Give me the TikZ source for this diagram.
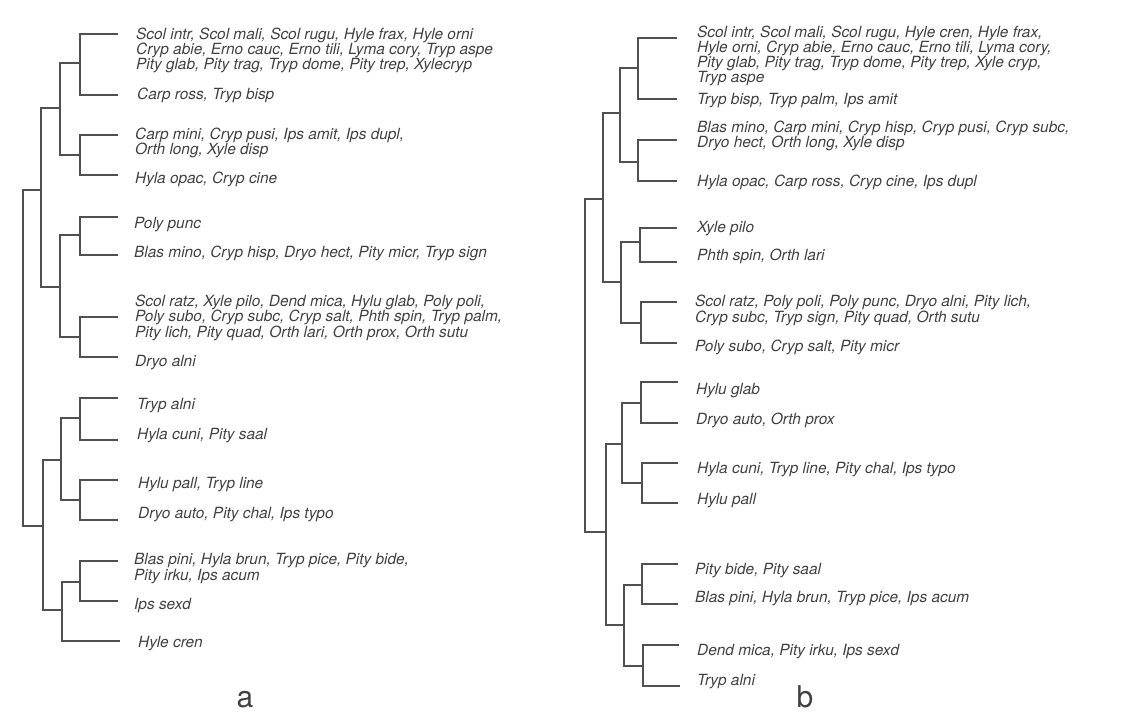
\documentclass[tikz,border=0pt]{standalone}
\usepackage{fontspec}
\setmainfont{TeX Gyre Heros}
\usetikzlibrary{positioning}
\definecolor{linecolor}{RGB}{80,80,80}
\definecolor{textcolor}{RGB}{65,65,65}

\begin{document}
\begin{tikzpicture}[x=1pt, y=-1pt,
    branch/.style={linecolor, line width=1.3pt},
    taxon/.style={textcolor, anchor=base west, align=left, inner sep=0pt,
      font=\fontsize{15.4}{15.2}\selectfont\itshape},
    panel/.style={textcolor, anchor=base, inner sep=0pt, font=\fontsize{30}{30}\selectfont}]
  \useasboundingbox (0,0) rectangle (1129,714);

  % ---------------- tree a ----------------
  \coordinate (a0) at (23,358);
  \coordinate (aA) at (41,190);
  \coordinate (aB) at (60,108);
  \coordinate (aC) at (60,287);
  \coordinate (aB1) at (80,63);
  \coordinate (aB2) at (80,155);
  \coordinate (aC1) at (80,235);
  \coordinate (aC2) at (80,337);
  \coordinate (aD) at (43,526);
  \coordinate (aE) at (61,460);
  \coordinate (aF) at (62,610);
  \coordinate (aE1) at (80,418);
  \coordinate (aE2) at (80,500);
  \coordinate (aF1) at (80,582);
  % leaves
  \coordinate (aL1) at (118,34);
  \coordinate (aL2) at (118,95);
  \coordinate (aL3) at (118,135);
  \coordinate (aL4) at (118,175);
  \coordinate (aL5) at (118,217);
  \coordinate (aL6) at (118,255);
  \coordinate (aL7) at (118,317);
  \coordinate (aL8) at (118,357);
  \coordinate (aL9) at (118,398);
  \coordinate (aL10) at (118,440);
  \coordinate (aL11) at (118,480);
  \coordinate (aL12) at (118,520);
  \coordinate (aL13) at (118,561);
  \coordinate (aL14) at (118,601);
  \coordinate (aL15) at (120,641);

  \draw[branch] (a0) |- (aA) (a0) |- (aD);
  \draw[branch] (aA) |- (aB) (aA) |- (aC);
  \draw[branch] (aB) |- (aB1) (aB) |- (aB2);
  \draw[branch] (aC) |- (aC1) (aC) |- (aC2);
  \draw[branch] (aB1) |- (aL1) (aB1) |- (aL2);
  \draw[branch] (aB2) |- (aL3) (aB2) |- (aL4);
  \draw[branch] (aC1) |- (aL5) (aC1) |- (aL6);
  \draw[branch] (aC2) |- (aL7) (aC2) |- (aL8);
  \draw[branch] (aD) |- (aE) (aD) |- (aF);
  \draw[branch] (aE) |- (aE1) (aE) |- (aE2);
  \draw[branch] (aE1) |- (aL9) (aE1) |- (aL10);
  \draw[branch] (aE2) |- (aL11) (aE2) |- (aL12);
  \draw[branch] (aF) |- (aF1) (aF) |- (aL15);
  \draw[branch] (aF1) |- (aL13) (aF1) |- (aL14);

  % labels a (base = last line)
  \node[taxon] (aT1) at (136,70) {Scol intr, Scol mali, Scol rugu, Hyle frax, Hyle orni\\
    Cryp abie, Erno cauc, Erno tili, Lyma cory, Tryp aspe\\
    Pity glab, Pity trag, Tryp dome, Pity trep, Xylecryp};
  \node[taxon] (aT2) at (137,100) {Carp ross, Tryp bisp};
  \node[taxon] (aT3) at (135,155) {Carp mini, Cryp pusi, Ips amit, Ips dupl,\\Orth long, Xyle disp};
  \node[taxon] (aT4) at (135,184) {Hyla opac, Cryp cine};
  \node[taxon] (aT5) at (134,228) {Poly punc};
  \node[taxon] (aT6) at (134,257) {Blas mino, Cryp hisp, Dryo hect, Pity micr, Tryp sign};
  \node[taxon] (aT7) at (135,337) {Scol ratz, Xyle pilo, Dend mica, Hylu glab, Poly poli,\\
    Poly subo, Cryp subc, Cryp salt, Phth spin, Tryp palm,\\
    Pity lich, Pity quad, Orth lari, Orth prox, Orth sutu};
  \node[taxon] (aT8) at (135,366) {Dryo alni};
  \node[taxon] (aT9) at (137,409) {Tryp alni};
  \node[taxon] (aT10) at (137,439) {Hyla cuni, Pity saal};
  \node[taxon] (aT11) at (138,488) {Hylu pall, Tryp line};
  \node[taxon] (aT12) at (138,518) {Dryo auto, Pity chal, Ips typo};
  \node[taxon] (aT13) at (134,580) {Blas pini, Hyla brun, Tryp pice, Pity bide,\\Pity irku, Ips acum};
  \node[taxon] (aT14) at (134,609) {Ips sexd};
  \node[taxon] (aT15) at (138,647) {Hyle cren};
  \node[panel] (aName) at (245,707) {a};

  % ---------------- tree b ----------------
  \coordinate (b0) at (585,365);
  \coordinate (bA) at (603,199);
  \coordinate (bB) at (620,113);
  \coordinate (bC) at (621,282);
  \coordinate (bB1) at (638,68);
  \coordinate (bB2) at (638,162);
  \coordinate (bC1) at (640,242);
  \coordinate (bC2) at (641,323);
  \coordinate (bD) at (606,532);
  \coordinate (bE) at (622,444);
  \coordinate (bF) at (624,625);
  \coordinate (bE1) at (641,403);
  \coordinate (bE2) at (642,483);
  \coordinate (bF1) at (642,585);
  \coordinate (bF2) at (643,666);
  % leaves
  \coordinate (bL1) at (677,38);
  \coordinate (bL2) at (677,99);
  \coordinate (bL3) at (677,140);
  \coordinate (bL4) at (677,181);
  \coordinate (bL5) at (677,228);
  \coordinate (bL6) at (677,262);
  \coordinate (bL7) at (677,302);
  \coordinate (bL8) at (677,343);
  \coordinate (bL9) at (678,382);
  \coordinate (bL10) at (678,423);
  \coordinate (bL11) at (678,463);
  \coordinate (bL12) at (678,503);
  \coordinate (bL13) at (678,564);
  \coordinate (bL14) at (678,604);
  \coordinate (bL15) at (679,645);
  \coordinate (bL16) at (680,686);

  \draw[branch] (b0) |- (bA) (b0) |- (bD);
  \draw[branch] (bA) |- (bB) (bA) |- (bC);
  \draw[branch] (bB) |- (bB1) (bB) |- (bB2);
  \draw[branch] (bC) |- (bC1) (bC) |- (bC2);
  \draw[branch] (bB1) |- (bL1) (bB1) |- (bL2);
  \draw[branch] (bB2) |- (bL3) (bB2) |- (bL4);
  \draw[branch] (bC1) |- (bL5) (bC1) |- (bL6);
  \draw[branch] (bC2) |- (bL7) (bC2) |- (bL8);
  \draw[branch] (bD) |- (bE) (bD) |- (bF);
  \draw[branch] (bE) |- (bE1) (bE) |- (bE2);
  \draw[branch] (bE1) |- (bL9) (bE1) |- (bL10);
  \draw[branch] (bE2) |- (bL11) (bE2) |- (bL12);
  \draw[branch] (bF) |- (bF1) (bF) |- (bF2);
  \draw[branch] (bF1) |- (bL13) (bF1) |- (bL14);
  \draw[branch] (bF2) |- (bL15) (bF2) |- (bL16);

  % labels b (base = last line)
  \node[taxon] (bT1) at (697,83) {Scol intr, Scol mali, Scol rugu, Hyle cren, Hyle frax,\\
    Hyle orni, Cryp abie, Erno cauc, Erno tili, Lyma cory,\\
    Pity glab, Pity trag, Tryp dome, Pity trep, Xyle cryp,\\
    Tryp aspe};
  \node[taxon] (bT2) at (697,105) {Tryp bisp, Tryp palm, Ips amit};
  \node[taxon] (bT3) at (697,148) {Blas mino, Carp mini, Cryp hisp, Cryp pusi, Cryp subc,\\
    Dryo hect, Orth long, Xyle disp};
  \node[taxon] (bT4) at (697,187) {Hyla opac, Carp ross, Cryp cine, Ips dupl};
  \node[taxon] (bT5) at (697,233) {Xyle pilo};
  \node[taxon] (bT6) at (697,260) {Phth spin, Orth lari};
  \node[taxon] (bT7) at (695,322) {Scol ratz, Poly poli, Poly punc, Dryo alni, Pity lich,\\
    Cryp subc, Tryp sign, Pity quad, Orth sutu};
  \node[taxon] (bT8) at (695,351) {Poly subo, Cryp salt, Pity micr};
  \node[taxon] (bT9) at (696,394) {Hylu glab};
  \node[taxon] (bT10) at (696,424) {Dryo auto, Orth prox};
  \node[taxon] (bT11) at (697,473) {Hyla cuni, Tryp line, Pity chal, Ips typo};
  \node[taxon] (bT12) at (697,504) {Hylu pall};
  \node[taxon] (bT13) at (695,574) {Pity bide, Pity saal};
  \node[taxon] (bT14) at (695,602) {Blas pini, Hyla brun, Tryp pice, Ips acum};
  \node[taxon] (bT15) at (697,655) {Dend mica, Pity irku, Ips sexd};
  \node[taxon] (bT16) at (697,685) {Tryp alni};
  \node[panel] (bName) at (805,707) {b};
\end{tikzpicture}
\end{document}
